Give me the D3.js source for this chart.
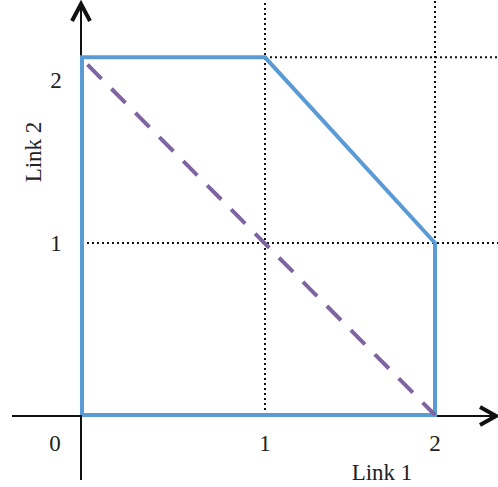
<!DOCTYPE html>
<html>
<head>
<meta charset="utf-8">
<script src="https://cdn.jsdelivr.net/npm/d3@7"></script>
<style>
  body { margin: 0; background: #fff; }
  text { font-family: "Liberation Serif", serif; fill: #222; }
</style>
</head>
<body>
<div id="chart"></div>
<script>
var width = 498, height = 487;

// chart values
var tickValues = [0, 1, 2];
var tickLabels = ["0", "1", "2"];
var regionX = [0, 0, 1, 2, 2, 0];
var regionY = [0, 2.075, 2.075, 1, 0, 0];
var dashX = [0.03, 2];
var dashY = [2.035, 0];
var gridV = [{ x: 1, y0: 0, y1: 2.4 }, { x: 2, y0: 1, y1: 2.4 }];
var gridH = [{ y: 1, x0: 0, x1: 2.4 }, { y: 2.075, x0: 1, x1: 2.4 }];

var xScale = d3.scaleLinear().domain([0, 1, 2, 2.4]).range([82, 265, 435, 503]);
var yScale = d3.scaleLinear().domain([0, 1, 2, 2.4]).range([415, 243, 71, -2]);

var svg = d3.select("#chart").append("svg")
  .attr("width", width)
  .attr("height", height);

// dotted grid
svg.selectAll(".gv").data(gridV).enter().append("line")
  .attr("x1", function (d) { return xScale(d.x); })
  .attr("x2", function (d) { return xScale(d.x); })
  .attr("y1", function (d) { return yScale(d.y0); })
  .attr("y2", function (d) { return yScale(d.y1); })
  .attr("stroke", "#111").attr("stroke-width", 2).attr("stroke-dasharray", "2,3");
svg.selectAll(".gh").data(gridH).enter().append("line")
  .attr("x1", function (d) { return xScale(d.x0); })
  .attr("x2", function (d) { return xScale(d.x1); })
  .attr("y1", function (d) { return yScale(d.y); })
  .attr("y2", function (d) { return yScale(d.y); })
  .attr("stroke", "#111").attr("stroke-width", 2).attr("stroke-dasharray", "2,3");

// axes
svg.append("line").attr("x1", 12).attr("x2", 496).attr("y1", 416).attr("y2", 416)
  .attr("stroke", "#111").attr("stroke-width", 2);
svg.append("line").attr("x1", 81).attr("x2", 81).attr("y1", 4).attr("y2", 480)
  .attr("stroke", "#111").attr("stroke-width", 2);
// arrow heads
svg.append("path").attr("d", "M72,21 L81,4 L90,21")
  .attr("fill", "none").attr("stroke", "#111").attr("stroke-width", 4).attr("stroke-linejoin", "miter");
svg.append("path").attr("d", "M480,407 L496,416 L480,425")
  .attr("fill", "none").attr("stroke", "#111").attr("stroke-width", 4).attr("stroke-linejoin", "miter");

// feasible region
var line = d3.line()
  .x(function (d) { return xScale(d[0]); })
  .y(function (d) { return yScale(d[1]); });
var regionPts = regionX.map(function (x, i) { return [x, regionY[i]]; });
svg.append("path").datum(regionPts).attr("d", line)
  .attr("fill", "none").attr("stroke", "#5b9bd5").attr("stroke-width", 4)
  .attr("stroke-linejoin", "miter");
svg.append("path").datum(regionPts.slice(0, 2)).attr("d", line)
  .attr("fill", "none").attr("stroke", "#5b9bd5").attr("stroke-width", 4);

// dashed line
var dashPts = dashX.map(function (x, i) { return [x, dashY[i]]; });
svg.append("path").datum(dashPts).attr("d", line)
  .attr("fill", "none").attr("stroke", "#8064a2").attr("stroke-width", 4)
  .attr("stroke-dasharray", "20,14");

// tick labels
svg.selectAll(".xl").data(tickValues).enter().append("text")
  .attr("x", function (d) { return d === 0 ? 55 : xScale(d); })
  .attr("y", 451)
  .attr("text-anchor", "middle")
  .style("font-size", "23px")
  .text(function (d, i) { return tickLabels[i]; });
svg.selectAll(".yl").data(tickValues.slice(1)).enter().append("text")
  .attr("x", 56)
  .attr("y", function (d) { return d === 2 ? 88 : yScale(d) + 8; })
  .attr("text-anchor", "middle")
  .style("font-size", "23px")
  .text(function (d, i) { return tickLabels[i + 1]; });

// axis titles
svg.append("text").attr("x", 382).attr("y", 480).attr("text-anchor", "middle")
  .style("font-size", "23px").text("Link 1");
svg.append("text").attr("transform", "translate(41,152) rotate(-90)")
  .attr("text-anchor", "middle").style("font-size", "23px").text("Link 2");
</script>
</body>
</html>
